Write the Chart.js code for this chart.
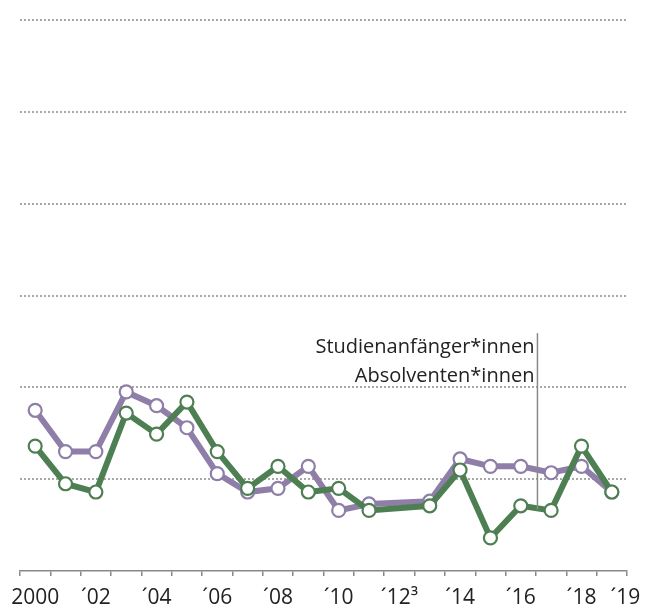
<!DOCTYPE html>
<html>
<head>
<meta charset="utf-8">
<script src="https://cdn.jsdelivr.net/npm/chart.js@4"></script>
<style>
html,body{margin:0;padding:0;background:#fff;}
#wrap{width:657px;height:610px;position:relative;}
</style>
</head>
<body>
<div id="wrap"><canvas id="c" width="657" height="610"></canvas></div>
<script>
const years = ['2000','2001','2002','2003','2004','2005','2006','2007','2008','2009','2010','2011','2012','2013','2014','2015','2016','2017','2018','2019'];
const tickLabels = ['2000','','´02','','´04','','´06','','´08','','´10','','´12³','','´14','','´16','','´18','     ´19'];
const studienanfaenger = [17.5,13.0,13.0,19.5,18.0,15.6,10.6,8.6,9.0,11.4,6.6,7.3,null,7.6,12.2,11.4,11.4,10.7,11.4,8.6];
const absolventen = [13.6,9.5,8.6,17.2,14.9,18.4,13.0,9.0,11.4,8.6,9.0,6.6,null,7.1,11.0,3.6,7.1,6.6,13.6,8.6];
const seriesNames = ['Studienanfänger*innen','Absolventen*innen'];

const FONT = '"Open Sans", sans-serif';
const PURPLE = '#8f7ea8';
const GREEN = '#4e7f53';

const annot = {
  id:'annot',
  afterDatasetsDraw(chart){
    const {ctx, scales:{x,y}} = chart;
    const xp = (x.getPixelForValue(16) + x.getPixelForValue(17))/2 + 1.5;
    ctx.save();
    ctx.strokeStyle = '#8a8a8a';
    ctx.lineWidth = 1.5;
    ctx.beginPath();
    ctx.moveTo(xp, y.getPixelForValue(25.9));
    ctx.lineTo(xp, y.getPixelForValue(6.7));
    ctx.stroke();
    ctx.fillStyle = '#222';
    ctx.font = '20px ' + FONT;
    ctx.textAlign = 'right';
    ctx.textBaseline = 'alphabetic';
    ctx.fillText(seriesNames[0], xp - 3, 353);
    ctx.fillText(seriesNames[1], xp - 3, 382);
    ctx.restore();
  }
};

new Chart(document.getElementById('c'), {
  type:'line',
  data:{
    labels: years,
    datasets:[
      {label:seriesNames[1], data:absolventen, borderColor:GREEN, borderWidth:6, pointRadius:6.5, pointBorderWidth:2.2, pointBackgroundColor:'#fff', pointBorderColor:GREEN, spanGaps:true, tension:0, order:0},
      {label:seriesNames[0], data:studienanfaenger, borderColor:PURPLE, borderWidth:6, pointRadius:6.5, pointBorderWidth:2.2, pointBackgroundColor:'#fff', pointBorderColor:PURPLE, spanGaps:true, tension:0, order:1}
    ]
  },
  options:{
    responsive:false,
    animation:false,
    layout:{padding:{left:20,right:30,top:20,bottom:0}},
    plugins:{legend:{display:false},tooltip:{enabled:false}},
    scales:{
      x:{
        offset:true,
        grid:{offset:true, drawOnChartArea:false, drawTicks:true, tickLength:5, color:'#888', lineWidth:1.5},
        border:{display:true, color:'#888', width:1.5},
        ticks:{autoSkip:false, maxRotation:0, minRotation:0, padding:9, color:'#222', font:{family:FONT, size:21},
          callback:(v,i)=>tickLabels[i]},
        afterFit:s=>{s.height=39;}
      },
      y:{
        min:0,max:60,
        ticks:{display:false, stepSize:10},
        border:{display:false, dash:[2,2]},
        grid:{drawTicks:false, color:(c)=>c.tick.value===0?'rgba(0,0,0,0)':'#a8a8a8', lineWidth:2},
        afterFit:s=>{s.width=0;}
      }
    }
  },
  plugins:[annot]
});
</script>
</body>
</html>
